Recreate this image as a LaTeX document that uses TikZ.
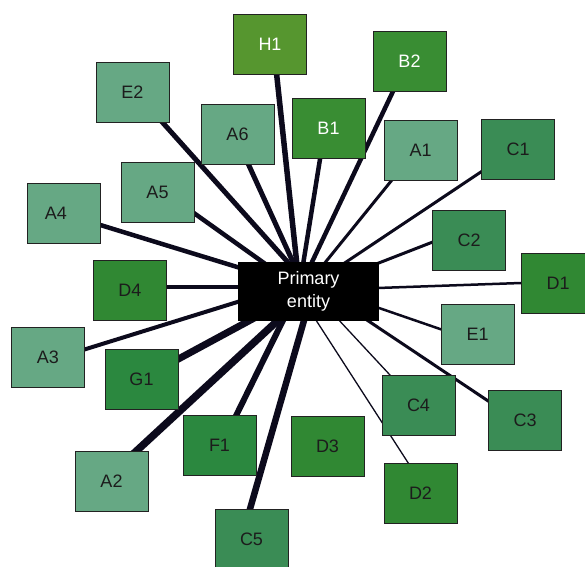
\documentclass[tikz,border=0pt]{standalone}
\usepackage{fontspec}
\setmainfont{Liberation Sans}
\usetikzlibrary{backgrounds,calc}
\definecolor{colA}{HTML}{66A884}
\definecolor{colB}{HTML}{398D33}
\definecolor{colC}{HTML}{3A8C55}
\definecolor{colD}{HTML}{308833}
\definecolor{colFG}{HTML}{2B883F}
\definecolor{colH}{HTML}{56962F}
\definecolor{darktext}{HTML}{1C1C1C}
\definecolor{boxline}{HTML}{222222}
\definecolor{edgecol}{HTML}{0C0A1C}
\newcommand\spoke[4]{\draw[spokeline, line width=#4pt] ($(#1.center)+(#2)$) -- ($(P.center)+(#3)$);}
\begin{document}
\begin{tikzpicture}[x=1pt,y=-1pt,
  box/.style={draw=boxline, line width=1pt, minimum width=73pt, minimum height=60pt,
    inner sep=0pt, font=\fontsize{18}{21}\selectfont, text=darktext},
  light/.style={text=white},
  primary/.style={fill=black, minimum width=141pt, minimum height=59pt, inner sep=0pt,
    align=center, text=white, font=\fontsize{18}{23}\selectfont},
  spokeline/.style={draw=edgecol}]
\useasboundingbox (0,0) rectangle (585,566);
\clip (0,0) rectangle (585,566);
\node[box,fill=colH,light] (H1) at (270,44) {H1};
\node[box,fill=colA] (E2) at (132.5,92.5) {E2};
\node[box,fill=colB,light] (B2) at (409.5,61) {B2};
\node[box,fill=colA] (A6) at (237.5,134) {A6};
\node[box,fill=colB,light] (B1) at (328.5,128) {B1};
\node[box,fill=colA] (A1) at (420.5,150) {A1};
\node[box,fill=colC] (C1) at (518,149.5) {C1};
\node[box,fill=colA] (A5) at (157.5,192) {A5};
\node[box,fill=colA] (A4) at (63.5,213) {A4\kern15.4pt};
\node[box,fill=colC] (C2) at (469,240.5) {C2};
\node[box,fill=colD] (D1) at (558,283) {D1};
\node[box,fill=colD] (D4) at (130,290.5) {D4};
\node[box,fill=colA] (A3) at (48,357) {A3};
\node[box,fill=colA] (E1) at (477.5,334) {E1};
\node[box,fill=colFG] (G1) at (141.5,379) {G1};
\node[box,fill=colC] (C4) at (418.5,405) {C4};
\node[box,fill=colC] (C3) at (525,420) {C3};
\node[box,fill=colFG] (F1) at (219.5,445) {F1};
\node[box,fill=colD] (D3) at (327.5,446.5) {D3};
\node[box,fill=colA] (A2) at (111.5,481) {A2};
\node[box,fill=colD] (D2) at (420.5,493) {D2};
\node[box,fill=colC] (C5) at (251.5,539) {C5};
\node[primary] (P) at (308.5,291.5) {Primary\\entity};
\begin{scope}[on background layer]
\spoke{H1}{3.4,0}{-8.7,0}{5.5}
\spoke{E2}{3.2,0}{5.6,0}{5}
\spoke{A6}{-2.9,0}{-2.1,0}{5}
\spoke{A5}{0,-4.9}{0,3.2}{4.5}
\spoke{A4}{0,0.7}{0,-2.6}{4.5}
\spoke{D4}{0,-3.7}{0,-4.7}{4.5}
\spoke{A3}{0,3.8}{0,-11.6}{4}
\spoke{G1}{0,-0.1}{0,-2.8}{7}
\spoke{A2}{0,-7}{0,0.6}{7.5}
\spoke{F1}{2.1,0}{-11.3,0}{6}
\spoke{C5}{-10.1,0}{3.8,0}{6.5}
\spoke{B1}{-3.5,0}{-9.8,0}{4.5}
\spoke{B2}{-2.1,0}{-10.5,0}{4.5}
\spoke{A1}{-4.3,0}{-6.8,0}{3}
\spoke{C1}{0,-2.3}{0,-4.4}{3}
\spoke{C2}{0,-12.6}{0,-1.2}{3}
\spoke{D1}{0,-1.3}{0,-1.1}{2.5}
\spoke{E1}{0,7.9}{0,-7.8}{2.5}
\spoke{C3}{0,5.6}{15.8,0}{3}
\spoke{C4}{-0.6,0}{3.8,0}{1.3}
\spoke{D2}{7.1,0}{-11,0}{1.3}
\end{scope}
\end{tikzpicture}
\end{document}
